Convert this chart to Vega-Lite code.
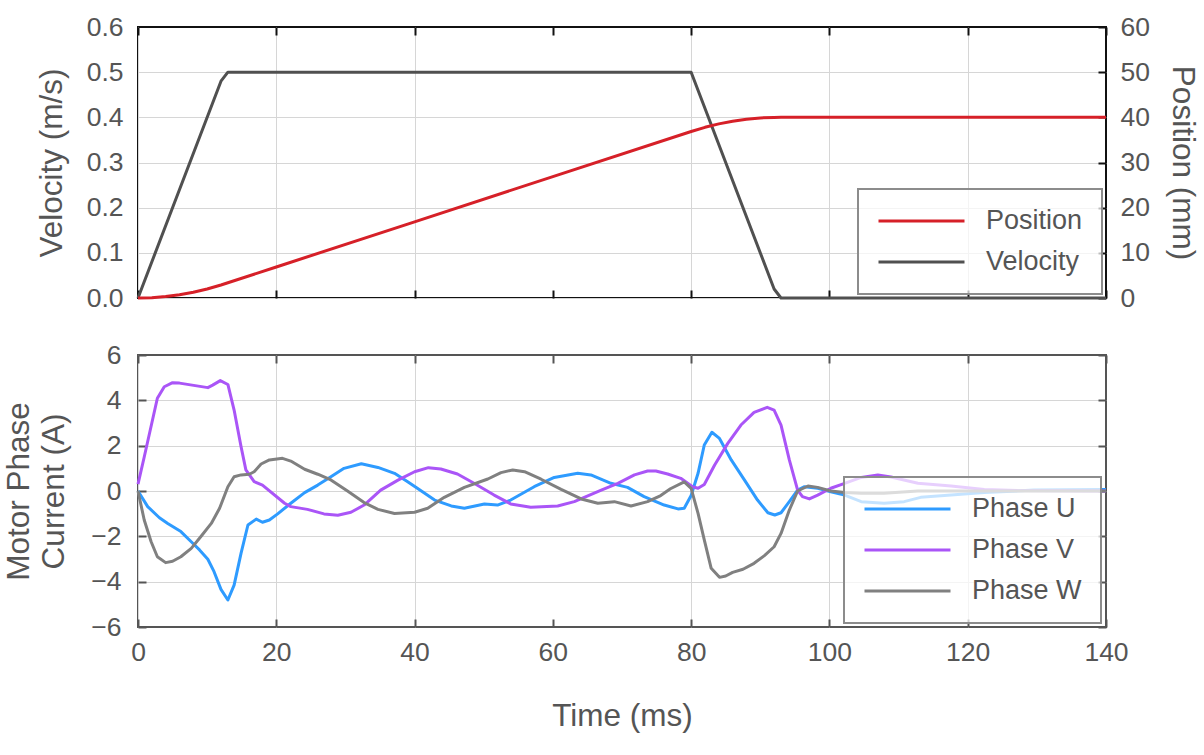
{
  "$schema": "https://vega.github.io/schema/vega-lite/v6.json",
  "padding": {"left": 2, "top": 13, "right": 2, "bottom": 5},
  "spacing": 28,
  "datasets": {
    "velocity": [
      {"t": 0, "velocity": 0}, {"t": 12, "velocity": 0.48}, {"t": 13, "velocity": 0.5},
      {"t": 80, "velocity": 0.5}, {"t": 92, "velocity": 0.02}, {"t": 93, "velocity": 0},
      {"t": 140, "velocity": 0}
    ],
    "position": [
      {"t": 0, "position": 0}, {"t": 2, "position": 0.08}, {"t": 4, "position": 0.32},
      {"t": 6, "position": 0.72}, {"t": 8, "position": 1.28}, {"t": 10, "position": 2.0},
      {"t": 12, "position": 2.88}, {"t": 13, "position": 3.37}, {"t": 20, "position": 6.87},
      {"t": 40, "position": 16.87}, {"t": 60, "position": 26.87}, {"t": 80, "position": 36.87},
      {"t": 82, "position": 37.79}, {"t": 84, "position": 38.55}, {"t": 86, "position": 39.15},
      {"t": 88, "position": 39.59}, {"t": 90, "position": 39.87}, {"t": 92, "position": 39.99},
      {"t": 93, "position": 40.0}, {"t": 140, "position": 40.0}
    ],
    "current": [
      {"phase": "Phase U", "t": 0, "i": 0}, {"phase": "Phase U", "t": 1.4, "i": -0.69},
      {"phase": "Phase U", "t": 3.1, "i": -1.18}, {"phase": "Phase U", "t": 4.3, "i": -1.43},
      {"phase": "Phase U", "t": 6.2, "i": -1.79}, {"phase": "Phase U", "t": 7.7, "i": -2.24},
      {"phase": "Phase U", "t": 8.9, "i": -2.6}, {"phase": "Phase U", "t": 10.1, "i": -3.01},
      {"phase": "Phase U", "t": 11.0, "i": -3.56}, {"phase": "Phase U", "t": 12.0, "i": -4.34},
      {"phase": "Phase U", "t": 13.0, "i": -4.81}, {"phase": "Phase U", "t": 13.9, "i": -4.15},
      {"phase": "Phase U", "t": 14.9, "i": -2.75}, {"phase": "Phase U", "t": 15.9, "i": -1.5},
      {"phase": "Phase U", "t": 17.1, "i": -1.24}, {"phase": "Phase U", "t": 18.0, "i": -1.38},
      {"phase": "Phase U", "t": 19.0, "i": -1.28}, {"phase": "Phase U", "t": 20.2, "i": -1.01},
      {"phase": "Phase U", "t": 22.1, "i": -0.54}, {"phase": "Phase U", "t": 24.1, "i": -0.07},
      {"phase": "Phase U", "t": 26.0, "i": 0.26}, {"phase": "Phase U", "t": 27.9, "i": 0.63},
      {"phase": "Phase U", "t": 29.8, "i": 1.0}, {"phase": "Phase U", "t": 32.3, "i": 1.2},
      {"phase": "Phase U", "t": 34.7, "i": 1.04}, {"phase": "Phase U", "t": 37.1, "i": 0.78},
      {"phase": "Phase U", "t": 39.0, "i": 0.41}, {"phase": "Phase U", "t": 40.4, "i": 0.12},
      {"phase": "Phase U", "t": 42.9, "i": -0.4}, {"phase": "Phase U", "t": 45.3, "i": -0.66},
      {"phase": "Phase U", "t": 47.2, "i": -0.76}, {"phase": "Phase U", "t": 50.1, "i": -0.57},
      {"phase": "Phase U", "t": 52.0, "i": -0.62}, {"phase": "Phase U", "t": 53.9, "i": -0.4},
      {"phase": "Phase U", "t": 57.3, "i": 0.19}, {"phase": "Phase U", "t": 60.2, "i": 0.6},
      {"phase": "Phase U", "t": 63.6, "i": 0.78}, {"phase": "Phase U", "t": 65.5, "i": 0.71},
      {"phase": "Phase U", "t": 68.4, "i": 0.34}, {"phase": "Phase U", "t": 70.8, "i": 0.16},
      {"phase": "Phase U", "t": 73.2, "i": -0.25}, {"phase": "Phase U", "t": 76.1, "i": -0.62},
      {"phase": "Phase U", "t": 78.1, "i": -0.79}, {"phase": "Phase U", "t": 79.0, "i": -0.76},
      {"phase": "Phase U", "t": 80.0, "i": -0.2}, {"phase": "Phase U", "t": 81.0, "i": 0.78},
      {"phase": "Phase U", "t": 81.9, "i": 2.03}, {"phase": "Phase U", "t": 83.0, "i": 2.59},
      {"phase": "Phase U", "t": 84.1, "i": 2.32}, {"phase": "Phase U", "t": 85.8, "i": 1.37},
      {"phase": "Phase U", "t": 87.7, "i": 0.49}, {"phase": "Phase U", "t": 89.6, "i": -0.4},
      {"phase": "Phase U", "t": 91.1, "i": -0.96}, {"phase": "Phase U", "t": 92.1, "i": -1.06},
      {"phase": "Phase U", "t": 93.0, "i": -0.96}, {"phase": "Phase U", "t": 94.2, "i": -0.47},
      {"phase": "Phase U", "t": 95.4, "i": 0.04}, {"phase": "Phase U", "t": 96.4, "i": 0.19},
      {"phase": "Phase U", "t": 98.3, "i": 0.12}, {"phase": "Phase U", "t": 100.2, "i": -0.03},
      {"phase": "Phase U", "t": 102.2, "i": -0.18}, {"phase": "Phase U", "t": 104.6, "i": -0.47},
      {"phase": "Phase U", "t": 107.9, "i": -0.54}, {"phase": "Phase U", "t": 110.8, "i": -0.47},
      {"phase": "Phase U", "t": 113.2, "i": -0.28}, {"phase": "Phase U", "t": 117.6, "i": -0.18},
      {"phase": "Phase U", "t": 122.4, "i": -0.07}, {"phase": "Phase U", "t": 129.6, "i": 0.04},
      {"phase": "Phase U", "t": 140, "i": 0.07},
      {"phase": "Phase V", "t": 0, "i": 0.3}, {"phase": "Phase V", "t": 0.9, "i": 1.5},
      {"phase": "Phase V", "t": 2.8, "i": 4.09}, {"phase": "Phase V", "t": 3.8, "i": 4.6},
      {"phase": "Phase V", "t": 5.0, "i": 4.78}, {"phase": "Phase V", "t": 6.0, "i": 4.76},
      {"phase": "Phase V", "t": 10.1, "i": 4.56}, {"phase": "Phase V", "t": 10.8, "i": 4.67},
      {"phase": "Phase V", "t": 11.9, "i": 4.87}, {"phase": "Phase V", "t": 13.0, "i": 4.7},
      {"phase": "Phase V", "t": 13.9, "i": 3.57}, {"phase": "Phase V", "t": 14.9, "i": 1.96},
      {"phase": "Phase V", "t": 15.6, "i": 0.93}, {"phase": "Phase V", "t": 16.8, "i": 0.41},
      {"phase": "Phase V", "t": 18.0, "i": 0.26}, {"phase": "Phase V", "t": 21.2, "i": -0.54},
      {"phase": "Phase V", "t": 22.1, "i": -0.69}, {"phase": "Phase V", "t": 24.5, "i": -0.81},
      {"phase": "Phase V", "t": 26.9, "i": -1.01}, {"phase": "Phase V", "t": 28.9, "i": -1.07},
      {"phase": "Phase V", "t": 30.8, "i": -0.94}, {"phase": "Phase V", "t": 32.7, "i": -0.62},
      {"phase": "Phase V", "t": 35.1, "i": 0.04}, {"phase": "Phase V", "t": 37.6, "i": 0.48},
      {"phase": "Phase V", "t": 40.0, "i": 0.85}, {"phase": "Phase V", "t": 42.0, "i": 1.03},
      {"phase": "Phase V", "t": 43.8, "i": 0.97}, {"phase": "Phase V", "t": 46.2, "i": 0.75},
      {"phase": "Phase V", "t": 48.6, "i": 0.34}, {"phase": "Phase V", "t": 51.5, "i": -0.18},
      {"phase": "Phase V", "t": 53.9, "i": -0.57}, {"phase": "Phase V", "t": 56.8, "i": -0.72},
      {"phase": "Phase V", "t": 60.7, "i": -0.66}, {"phase": "Phase V", "t": 63.1, "i": -0.47},
      {"phase": "Phase V", "t": 67.0, "i": 0.04}, {"phase": "Phase V", "t": 69.4, "i": 0.34},
      {"phase": "Phase V", "t": 71.8, "i": 0.71}, {"phase": "Phase V", "t": 73.7, "i": 0.88},
      {"phase": "Phase V", "t": 74.9, "i": 0.88}, {"phase": "Phase V", "t": 76.6, "i": 0.75},
      {"phase": "Phase V", "t": 78.5, "i": 0.56}, {"phase": "Phase V", "t": 80.2, "i": 0.19},
      {"phase": "Phase V", "t": 81.0, "i": 0.12}, {"phase": "Phase V", "t": 81.9, "i": 0.29},
      {"phase": "Phase V", "t": 83.4, "i": 1.15}, {"phase": "Phase V", "t": 85.3, "i": 2.1},
      {"phase": "Phase V", "t": 87.2, "i": 2.91}, {"phase": "Phase V", "t": 89.1, "i": 3.47},
      {"phase": "Phase V", "t": 91.0, "i": 3.69}, {"phase": "Phase V", "t": 92.0, "i": 3.57},
      {"phase": "Phase V", "t": 93.0, "i": 2.91}, {"phase": "Phase V", "t": 94.2, "i": 1.37},
      {"phase": "Phase V", "t": 95.4, "i": 0.04}, {"phase": "Phase V", "t": 96.1, "i": -0.25},
      {"phase": "Phase V", "t": 97.1, "i": -0.35}, {"phase": "Phase V", "t": 98.3, "i": -0.18},
      {"phase": "Phase V", "t": 100.2, "i": 0.12}, {"phase": "Phase V", "t": 102.2, "i": 0.34},
      {"phase": "Phase V", "t": 104.6, "i": 0.6}, {"phase": "Phase V", "t": 107.0, "i": 0.71},
      {"phase": "Phase V", "t": 108.9, "i": 0.62}, {"phase": "Phase V", "t": 112.8, "i": 0.34},
      {"phase": "Phase V", "t": 117.6, "i": 0.22}, {"phase": "Phase V", "t": 122.4, "i": 0.07},
      {"phase": "Phase V", "t": 127.2, "i": 0.02}, {"phase": "Phase V", "t": 140, "i": 0.0},
      {"phase": "Phase W", "t": 0, "i": 0}, {"phase": "Phase W", "t": 0.9, "i": -1.28},
      {"phase": "Phase W", "t": 1.9, "i": -2.24}, {"phase": "Phase W", "t": 2.8, "i": -2.9},
      {"phase": "Phase W", "t": 4.0, "i": -3.16}, {"phase": "Phase W", "t": 5.0, "i": -3.1},
      {"phase": "Phase W", "t": 6.2, "i": -2.9}, {"phase": "Phase W", "t": 7.7, "i": -2.53},
      {"phase": "Phase W", "t": 9.1, "i": -2.01}, {"phase": "Phase W", "t": 10.6, "i": -1.43},
      {"phase": "Phase W", "t": 11.8, "i": -0.76}, {"phase": "Phase W", "t": 13.0, "i": 0.19},
      {"phase": "Phase W", "t": 13.9, "i": 0.63}, {"phase": "Phase W", "t": 14.9, "i": 0.71},
      {"phase": "Phase W", "t": 16.1, "i": 0.74}, {"phase": "Phase W", "t": 16.8, "i": 0.85},
      {"phase": "Phase W", "t": 17.8, "i": 1.19}, {"phase": "Phase W", "t": 19.0, "i": 1.37},
      {"phase": "Phase W", "t": 20.9, "i": 1.44}, {"phase": "Phase W", "t": 22.1, "i": 1.32},
      {"phase": "Phase W", "t": 24.1, "i": 0.96}, {"phase": "Phase W", "t": 26.0, "i": 0.74},
      {"phase": "Phase W", "t": 27.9, "i": 0.49}, {"phase": "Phase W", "t": 30.3, "i": 0.0},
      {"phase": "Phase W", "t": 32.7, "i": -0.51}, {"phase": "Phase W", "t": 34.7, "i": -0.81},
      {"phase": "Phase W", "t": 37.1, "i": -0.99}, {"phase": "Phase W", "t": 40.0, "i": -0.94},
      {"phase": "Phase W", "t": 41.9, "i": -0.76}, {"phase": "Phase W", "t": 44.3, "i": -0.28},
      {"phase": "Phase W", "t": 47.2, "i": 0.16}, {"phase": "Phase W", "t": 50.6, "i": 0.53},
      {"phase": "Phase W", "t": 52.5, "i": 0.81}, {"phase": "Phase W", "t": 54.2, "i": 0.93},
      {"phase": "Phase W", "t": 55.9, "i": 0.85}, {"phase": "Phase W", "t": 58.3, "i": 0.52},
      {"phase": "Phase W", "t": 61.2, "i": 0.07}, {"phase": "Phase W", "t": 64.1, "i": -0.35},
      {"phase": "Phase W", "t": 66.5, "i": -0.54}, {"phase": "Phase W", "t": 68.9, "i": -0.47},
      {"phase": "Phase W", "t": 71.3, "i": -0.66}, {"phase": "Phase W", "t": 73.7, "i": -0.47},
      {"phase": "Phase W", "t": 75.6, "i": -0.2}, {"phase": "Phase W", "t": 77.0, "i": 0.1},
      {"phase": "Phase W", "t": 79.0, "i": 0.4}, {"phase": "Phase W", "t": 80.0, "i": 0.12},
      {"phase": "Phase W", "t": 81.0, "i": -0.99}, {"phase": "Phase W", "t": 81.9, "i": -2.16},
      {"phase": "Phase W", "t": 82.9, "i": -3.41}, {"phase": "Phase W", "t": 84.1, "i": -3.81},
      {"phase": "Phase W", "t": 85.0, "i": -3.75}, {"phase": "Phase W", "t": 86.0, "i": -3.59},
      {"phase": "Phase W", "t": 87.5, "i": -3.45}, {"phase": "Phase W", "t": 89.1, "i": -3.19},
      {"phase": "Phase W", "t": 90.6, "i": -2.85}, {"phase": "Phase W", "t": 92.0, "i": -2.46},
      {"phase": "Phase W", "t": 93.0, "i": -1.87}, {"phase": "Phase W", "t": 94.2, "i": -0.84},
      {"phase": "Phase W", "t": 95.4, "i": 0.0}, {"phase": "Phase W", "t": 96.9, "i": 0.22},
      {"phase": "Phase W", "t": 98.3, "i": 0.16}, {"phase": "Phase W", "t": 100.2, "i": 0.0},
      {"phase": "Phase W", "t": 102.2, "i": -0.07}, {"phase": "Phase W", "t": 104.6, "i": -0.1},
      {"phase": "Phase W", "t": 107.9, "i": -0.1}, {"phase": "Phase W", "t": 112.8, "i": 0.0},
      {"phase": "Phase W", "t": 140, "i": 0.0}
    ]
  },
  "resolve": {"scale": {"color": "independent"}, "legend": {"color": "independent"}},
  "vconcat": [
    {
      "width": 968,
      "height": 271,
      "view": {"stroke": "#111111", "strokeWidth": 2},
      "resolve": {"scale": {"y": "independent"}, "axis": {"x": "independent", "y": "independent"}},
      "layer": [
        {
          "data": {"name": "velocity"},
          "mark": {"type": "line", "strokeWidth": 3, "strokeJoin": "round"},
          "encoding": {
            "x": {"field": "t", "type": "quantitative", "scale": {"domain": [0, 140], "nice": false},
              "axis": {"orient": "bottom", "labels": false, "title": null, "values": [0, 20, 40, 60, 80, 100, 120, 140], "grid": true, "ticks": true, "tickSize": -8, "tickColor": "#111111"}},
            "y": {"field": "velocity", "type": "quantitative", "scale": {"domain": [0, 0.6], "nice": false},
              "axis": {"orient": "left", "title": "Velocity (m/s)", "values": [0, 0.1, 0.2, 0.3, 0.4, 0.5, 0.6], "format": ".1f", "ticks": false, "labelPadding": 15, "titlePadding": 18}},
            "color": {"datum": "Velocity", "type": "nominal",
              "scale": {"domain": ["Position", "Velocity"], "range": ["#d62028", "#505050"]},
              "legend": {"orient": "none", "legendX": 720, "legendY": 162}}
          }
        },
        {
          "data": {"name": "position"},
          "mark": {"type": "line", "strokeWidth": 3, "strokeJoin": "round"},
          "encoding": {
            "x": {"field": "t", "type": "quantitative", "scale": {"domain": [0, 140], "nice": false},
              "axis": {"orient": "top", "labels": false, "title": null, "values": [0, 20, 40, 60, 80, 100, 120, 140], "grid": false, "tickSize": -8, "tickColor": "#111111"}},
            "y": {"field": "position", "type": "quantitative", "scale": {"domain": [0, 60], "nice": false},
              "axis": {"orient": "right", "title": "Position (mm)", "values": [0, 10, 20, 30, 40, 50, 60], "grid": false, "tickSize": -8, "tickColor": "#111111", "labelPadding": 22, "titlePadding": 16}},
            "color": {"datum": "Position", "type": "nominal"}
          }
        }
      ]
    },
    {
      "width": 968,
      "height": 272,
      "view": {"stroke": "#555555", "strokeWidth": 2},
      "resolve": {"axis": {"x": "independent", "y": "independent"}},
      "layer": [
        {
          "data": {"name": "current"},
          "mark": {"type": "line", "strokeWidth": 3, "strokeJoin": "round"},
          "encoding": {
            "x": {"field": "t", "type": "quantitative", "scale": {"domain": [0, 140], "nice": false},
              "axis": {"orient": "bottom", "title": "Time (ms)", "values": [0, 20, 40, 60, 80, 100, 120, 140], "grid": true, "tickSize": -8, "labelPadding": 20, "titlePadding": 35}},
            "y": {"field": "i", "type": "quantitative", "scale": {"domain": [-6, 6], "nice": false},
              "axis": {"orient": "left", "title": ["Motor Phase", "Current (A)"], "titleLineHeight": 35, "values": [-6, -4, -2, 0, 2, 4, 6], "grid": true, "tickSize": -8, "labelPadding": 25, "titlePadding": 20}},
            "color": {"field": "phase", "type": "nominal",
              "scale": {"domain": ["Phase U", "Phase V", "Phase W"], "range": ["#2e9bff", "#aa55f7", "#808080"]},
              "legend": {"orient": "none", "legendX": 706, "legendY": 122}},
            "detail": {"field": "phase"}
          }
        },
        {
          "data": {"name": "current"},
          "mark": {"type": "line", "strokeOpacity": 0},
          "encoding": {
            "x": {"field": "t", "type": "quantitative",
              "axis": {"orient": "top", "labels": false, "title": null, "values": [0, 20, 40, 60, 80, 100, 120, 140], "grid": false, "tickSize": -8}},
            "y": {"field": "i", "type": "quantitative",
              "axis": {"orient": "right", "labels": false, "title": null, "values": [-6, -4, -2, 0, 2, 4, 6], "grid": false, "tickSize": -8}},
            "detail": {"field": "phase"}
          }
        }
      ]
    }
  ],
  "config": {
    "font": "Liberation Sans",
    "view": {"stroke": null},
    "axis": {
      "labelFont": "Liberation Sans",
      "labelFontSize": 26.5,
      "labelColor": "#555555",
      "labelFlush": false,
      "titleFont": "Liberation Sans",
      "titleFontSize": 31.5,
      "titleFontWeight": "normal",
      "titleColor": "#555555",
      "domain": false,
      "gridColor": "#d6d6d6",
      "gridWidth": 1,
      "gridOpacity": {"condition": {"test": "datum.value <= -6 || datum.value >= 140 || datum.value == 0.6 || datum.value == 60 || datum.value == 6", "value": 0}, "value": 1},
      "tickColor": "#555555",
      "tickWidth": 2,
      "labelPadding": 20
    },
    "legend": {
      "title": null,
      "labelFont": "Liberation Sans",
      "labelFontSize": 27,
      "labelColor": "#555555",
      "symbolType": "stroke",
      "symbolSize": 7396,
      "symbolStrokeWidth": 3,
      "clipHeight": 26,
      "rowPadding": 14,
      "labelOffset": 20,
      "padding": 19,
      "fillColor": "rgba(255,255,255,0.72)",
      "strokeColor": "#8c8c8c",
      "strokeWidth": 2
    }
  }
}
